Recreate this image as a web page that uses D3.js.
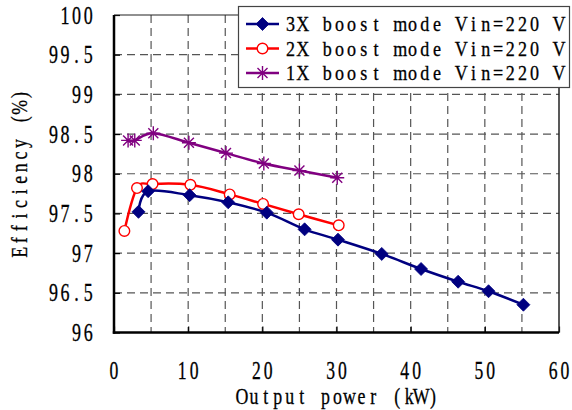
<!DOCTYPE html>
<html>
<head>
<meta charset="utf-8">
<script src="https://cdn.jsdelivr.net/npm/d3@7"></script>
<style>
  html, body { margin: 0; padding: 0; background: #fff; }
  svg { display: block; }
</style>
</head>
<body>
<svg id="chart" width="572" height="410"></svg>
<script>
// ---- data ----
const seriesNames = ["3X boost mode Vin=220 V", "2X boost mode Vin=220 V", "1X boost mode Vin=220 V"];
const power3X = [3.3, 4.6, 10.2, 15.4, 20.6, 25.7, 30.2, 36.1, 41.4, 46.4, 50.5, 55.2];
const eff3X   = [97.52, 97.78, 97.73, 97.64, 97.51, 97.30, 97.17, 96.99, 96.80, 96.64, 96.52, 96.35];
const power2X = [1.4, 3.1, 5.2, 10.3, 15.6, 20.1, 24.9, 30.3];
const eff2X   = [97.28, 97.82, 97.87, 97.86, 97.74, 97.62, 97.49, 97.35];
const power1X = [1.9, 2.8, 5.3, 10.1, 15.1, 20.2, 25.0, 30.1];
const eff1X   = [98.42, 98.42, 98.51, 98.39, 98.26, 98.13, 98.04, 97.95];
const xTicks = [0, 10, 20, 30, 40, 50, 60];
const yTicks = [96, 96.5, 97, 97.5, 98, 98.5, 99, 99.5, 100];
const xGrid = [5, 10, 15, 20, 25, 30, 35, 40, 45, 50, 55];
const xTitle = "Output power (kW)";
const yTitle = "Efficiency (%)";

// ---- layout ----
const L = 114, R = 559, T = 15, B = 332.5;
const svg = d3.select("#chart");
const x = d3.scaleLinear().domain([0, 60]).range([L, R]);
const y = d3.scaleLinear().domain([96, 100]).range([B, T]);
const FONT = "Liberation Serif, serif";

// grid
const grid = svg.append("g").attr("stroke", "#555").attr("stroke-width", 1.2)
  .attr("stroke-dasharray", "8,5").attr("fill", "none");
grid.selectAll("line.v").data(xGrid).enter().append("line")
  .attr("x1", d => x(d)).attr("x2", d => x(d)).attr("y1", T).attr("y2", B);
grid.selectAll("line.h").data(yTicks.filter(d => d > 96 && d < 100)).enter().append("line")
  .attr("x1", L).attr("x2", R).attr("y1", d => y(d)).attr("y2", d => y(d));

// axes (ticks inward)
const ax = svg.append("g").attr("transform", `translate(${L},0)`)
  .call(d3.axisLeft(y).tickValues(yTicks).tickSizeInner(-6).tickSizeOuter(0).tickFormat(""));
const bx = svg.append("g").attr("transform", `translate(0,${B})`)
  .call(d3.axisBottom(x).tickValues(xTicks).tickSizeInner(-6).tickSizeOuter(0).tickFormat(""));
[ax, bx].forEach(g => { g.selectAll(".tick line").attr("stroke", "#000").attr("stroke-width", 1.2); g.select(".domain").remove(); });

// frame
svg.append("line").attr("x1", L).attr("x2", R).attr("y1", T).attr("y2", T).attr("stroke", "#222").attr("stroke-width", 1.2);
svg.append("line").attr("x1", R).attr("x2", R).attr("y1", T).attr("y2", B).attr("stroke", "#222").attr("stroke-width", 1.5);
svg.append("line").attr("x1", L).attr("x2", L).attr("y1", T).attr("y2", B + 1.2).attr("stroke", "#000").attr("stroke-width", 2.5);
svg.append("line").attr("x1", L - 1.2).attr("x2", R).attr("y1", B).attr("y2", B).attr("stroke", "#000").attr("stroke-width", 2.5);

// monospaced-cell text helper (each glyph centred in a fixed-width cell, glyphs condensed by sx)
function mono(parent, str, px, py, o) {
  const n = str.length, W = n * o.adv;
  const left = o.anchor === "end" ? -W : o.anchor === "middle" ? -W / 2 : 0;
  const g = parent.append("g").attr("transform",
    `translate(${px},${py})` + (o.rot ? ` rotate(${o.rot})` : "") + ` scale(${o.sx},1)`);
  const xs = Array.from(str, (c, i) => ((left + i * o.adv + o.adv / 2) / o.sx).toFixed(2)).join(" ");
  g.append("text").text(str).attr("x", xs).attr("y", 0)
    .attr("font-family", FONT).attr("font-size", o.size)
    .attr("text-anchor", "middle").attr("fill", "#000")
    .attr("stroke", "#000").attr("stroke-width", 0.3);
  return g;
}
const fmtY = d => (d % 1 === 0 ? String(d) : d3.format(".1f")(d));
yTicks.forEach(d => mono(svg, fmtY(d), 94, y(d) + 8.5, { adv: 11.6, size: 25, sx: 0.72, anchor: "end" }));
xTicks.forEach(d => mono(svg, String(d), x(d), 378.5, { adv: 11.8, size: 24.5, sx: 0.72, anchor: "middle" }));
mono(svg, xTitle, (L + R) / 2 + 1, 404.3, { adv: 11.95, size: 23.5, sx: 0.76, anchor: "middle" });
mono(svg, yTitle, 27, (T + B) / 2, { adv: 12.1, size: 23.5, sx: 0.76, anchor: "middle", rot: -90 });

// series
const curve = d3.curveCardinal.tension(0);
const series = [
  { name: seriesNames[0], xs: power3X, ys: eff3X, color: "#000080", marker: "diamond" },
  { name: seriesNames[1], xs: power2X, ys: eff2X, color: "#FF0000", marker: "circle" },
  { name: seriesNames[2], xs: power1X, ys: eff1X, color: "#800080", marker: "star" },
];
function drawMarker(g, type, cx, cy, color) {
  if (type === "diamond") {
    g.append("path").attr("d", `M${cx},${cy - 6.5}L${cx + 6.5},${cy}L${cx},${cy + 6.5}L${cx - 6.5},${cy}Z`)
      .attr("fill", color).attr("stroke", color).attr("stroke-width", 0.8);
  } else if (type === "circle") {
    g.append("circle").attr("cx", cx).attr("cy", cy).attr("r", 5.3)
      .attr("fill", "#fff").attr("stroke", color).attr("stroke-width", 1.4);
  } else {
    const a = 7, b = 5;
    g.append("path").attr("d", `M${cx - a},${cy}H${cx + a}M${cx},${cy - a}V${cy + a}M${cx - b},${cy - b}L${cx + b},${cy + b}M${cx - b},${cy + b}L${cx + b},${cy - b}`)
      .attr("stroke", color).attr("stroke-width", 1.4).attr("fill", "none");
  }
}
series.slice().reverse().forEach(s => {
  const pts = s.xs.map((v, i) => [x(v), y(s.ys[i])]);
  svg.append("path").attr("d", d3.line().curve(curve)(pts)).attr("fill", "none")
    .attr("stroke", s.color).attr("stroke-width", 2.5).attr("stroke-linejoin", "round");
  const mg = svg.append("g");
  pts.forEach(p => drawMarker(mg, s.marker, p[0], p[1], s.color));
});

// legend
const lg = svg.append("g");
lg.append("rect").attr("x", 238.5).attr("y", 6.5).attr("width", 331).attr("height", 81)
  .attr("fill", "#fff").attr("stroke", "#444").attr("stroke-width", 1.2);
const rowY = [24, 48.5, 73];
series.forEach((s, i) => {
  const cy = rowY[i];
  lg.append("line").attr("x1", 246).attr("x2", 279).attr("y1", cy).attr("y2", cy)
    .attr("stroke", s.color).attr("stroke-width", 2.5);
  drawMarker(lg, s.marker, 262.5, cy, s.color);
  mono(lg, s.name, 284.5, cy + 7, { adv: 12.2, size: 20.5, sx: 0.88, anchor: "start" });
});
</script>
</body>
</html>
